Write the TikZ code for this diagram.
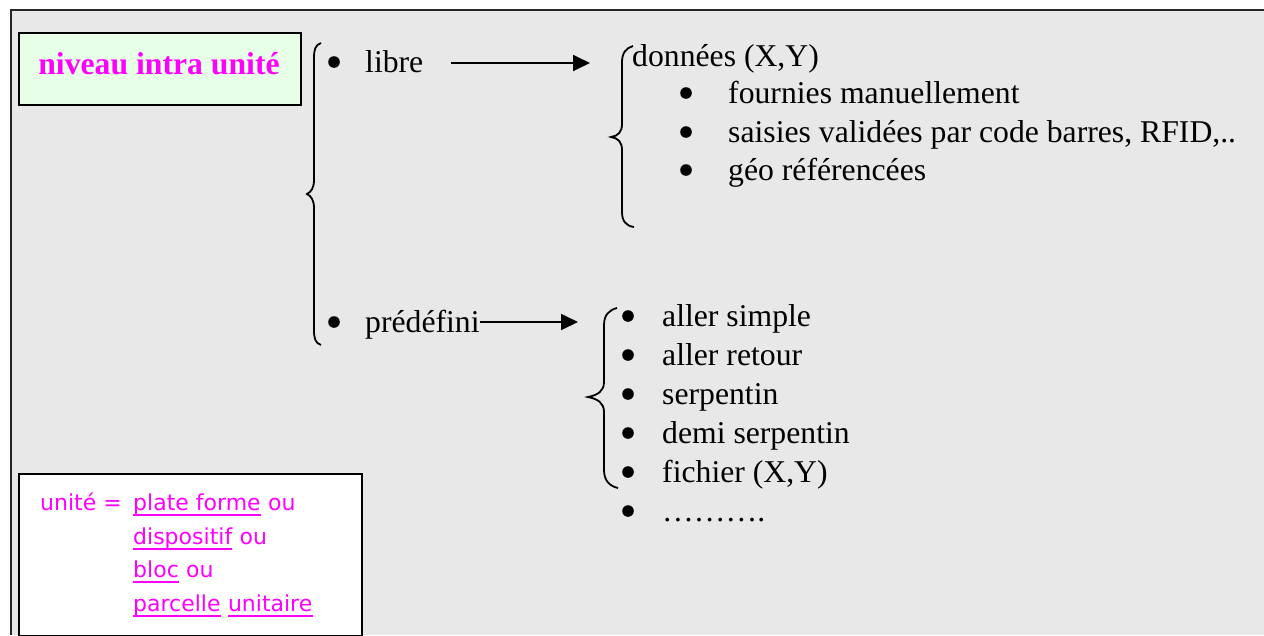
\documentclass[tikz,border=0pt]{standalone}
\usepackage{fontspec}
\setmainfont{Liberation Serif}
\newfontfamily\comicfont{DejaVu Sans}
\usetikzlibrary{arrows.meta}
\definecolor{bg}{HTML}{E8E8E8}
\definecolor{mag}{HTML}{FF00FF}
\definecolor{lgreen}{HTML}{E6FFE6}
\begin{document}
\begin{tikzpicture}[x=1pt,y=-1pt,
  txt/.style={inner sep=0pt, anchor=base west, font=\fontsize{31.7}{38}\selectfont},
  deftxt/.style={inner sep=0pt, anchor=base west, text=mag, font=\comicfont\fontsize{22}{26}\selectfont},
  bul/.style={fill=black},
  brace/.style={line width=1.8pt},
  arr/.style={line width=1.8pt, -{Triangle[length=17pt,width=16pt]}},
  uline/.style={mag, line width=2pt}]
\useasboundingbox (0,0) rectangle (1264,635);
\fill[bg] (10,10) rectangle (1264,635);
\draw[line width=2pt, black!85] (11,635) -- (11,10) -- (1264,10);

% title box
\node[draw, line width=2pt, fill=lgreen, anchor=north west, minimum width=282pt, minimum height=72pt, inner sep=0pt] (titlebox) at (18,32) {};
\node[inner sep=0pt, anchor=base, text=mag, font=\bfseries\fontsize{31.7}{38}\selectfont] (title) at (159,74) {niveau intra unité};

% brace 1
\draw[brace] (321,43) .. controls (315,45) and (314,50) .. (314,58) -- (314,180) .. controls (314,188) and (311,192) .. (307,194) .. controls (311,196) and (314,200) .. (314,208) -- (314,330) .. controls (314,338) and (315,343) .. (321,345);
\fill[bul] (334,62) circle (5.8);
\node[txt] (libre) at (365,72) {libre};
\fill[bul] (334,322) circle (5.8);
\node[txt] (predef) at (365,332) {prédéfini};

% arrows
\coordinate (a1s) at (451,63);
\coordinate (a1e) at (590,63);
\draw[arr] (a1s) -- (a1e);
\coordinate (a2e) at (578,322);
\draw[arr] (predef.east |- a2e) -- (a2e);

% brace 2
\draw[brace] (633,46) .. controls (626,48) and (622,53) .. (622,62) -- (622,124) .. controls (622,132) and (618,136) .. (611,137) .. controls (618,138) and (622,142) .. (622,150) -- (622,212) .. controls (622,221) and (626,226) .. (634,227);
\node[txt] (donnees) at (632,66) {données (X,Y)};
\fill[bul] (686,93) circle (5.8);
\node[txt] (d1) at (728,103) {fournies manuellement};
\fill[bul] (686,132) circle (5.8);
\node[txt] (d2) at (728,142) {saisies validées par code barres, RFID,..};
\fill[bul] (686,170) circle (5.8);
\node[txt] (d3) at (728,180) {géo référencées};

% brace 3
\draw[brace] (617,308) .. controls (609,310) and (604,315) .. (604,325) -- (604,382) .. controls (604,391) and (598,395) .. (588,397) .. controls (598,399) and (604,403) .. (604,412) -- (604,470) .. controls (604,480) and (609,486) .. (618,488);
\fill[bul] (628,316) circle (5.8);
\node[txt] (p1) at (662,326) {aller simple};
\fill[bul] (628,355) circle (5.8);
\node[txt] (p2) at (662,365) {aller retour};
\fill[bul] (628,394) circle (5.8);
\node[txt] (p3) at (662,404) {serpentin};
\fill[bul] (628,433) circle (5.8);
\node[txt] (p4) at (662,443) {demi serpentin};
\fill[bul] (628,472) circle (5.8);
\node[txt] (p5) at (662,482) {fichier (X,Y)};
\fill[bul] (628,511) circle (5.8);
\node[txt] (p6) at (662,521) {……….};

% definition box
\node[draw, line width=2pt, fill=white, anchor=north west, minimum width=343pt, minimum height=162pt, inner sep=0pt] (defbox) at (18,473) {};
\node[deftxt] (u0) at (40,510) {unité =};
\node[deftxt] (u1) at (133,510) {plate forme};
\node[deftxt, anchor=base west] (u1o) at ([xshift=7pt]u1.base east) {ou};
\node[deftxt] (u2) at (133,544) {dispositif};
\node[deftxt, anchor=base west] (u2o) at ([xshift=7pt]u2.base east) {ou};
\node[deftxt] (u3) at (133,577) {bloc};
\node[deftxt, anchor=base west] (u3o) at ([xshift=7pt]u3.base east) {ou};
\node[deftxt] (u4) at (133,611) {parcelle};
\node[deftxt, anchor=base west] (u5) at ([xshift=7pt]u4.base east) {unitaire};
\foreach \n in {u1,u2,u3,u4,u5}
  \draw[uline] ([yshift=-5pt]\n.base west) -- ([yshift=-5pt]\n.base east);
\end{tikzpicture}
\end{document}
